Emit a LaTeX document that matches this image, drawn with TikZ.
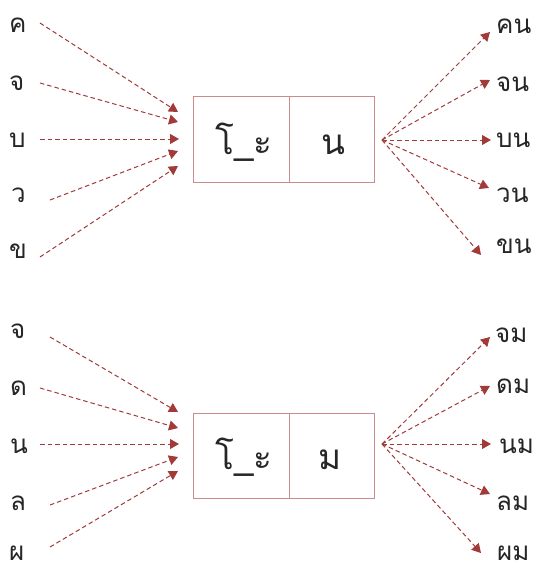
\documentclass[tikz,border=0pt]{standalone}
\usepackage{fontspec}
\newfontfamily\thaifont[Script=Thai]{Loma}
\usetikzlibrary{arrows.meta}
\definecolor{arrowred}{HTML}{A23A3A}
\definecolor{boxpink}{HTML}{C98C8C}
\definecolor{ink}{HTML}{262626}
\tikzset{
  lbl/.style={font=\thaifont\fontsize{26}{28}\selectfont, text=ink, inner sep=0pt},
  celltext/.style={font=\thaifont\fontsize{35}{38}\selectfont, text=ink, inner sep=0pt},
  cell/.style={draw=boxpink, line width=0.9pt, inner sep=0pt},
  link/.style={draw=arrowred, line width=1pt, dash pattern=on 4.5pt off 3pt,
    -{Triangle[length=9pt,width=10pt]}, arrowred},
}
\begin{document}
\begin{tikzpicture}[x=1pt,y=-1pt]
\useasboundingbox (0,0) rectangle (537,566);
\fill[white] (0,0) rectangle (537,566);

% ---------- upper word family: -on ----------
\node[cell, minimum width=96pt, minimum height=86pt] (ua) at (241,139) {};
\node[cell, minimum width=85pt, minimum height=86pt] (ub) at (331.5,139) {};
\node[celltext, anchor=base] (uat) at (244,154) {โ\_ะ};
\node[celltext, anchor=base] (ubt) at (333,154) {น};

\node[lbl, anchor=base west] (l1) at (9,32) {ค};
\node[lbl, anchor=base west] (l2) at (9,90) {จ};
\node[lbl, anchor=base west] (l3) at (9,147) {บ};
\node[lbl, anchor=base west] (l4) at (11,202) {ว};
\node[lbl, anchor=base west] (l5) at (9,258) {ข};

\coordinate (s1) at (40,23);   \coordinate (t1) at (178,112);
\coordinate (s2) at (40,83);   \coordinate (t2) at (178,122);
\coordinate (s3) at (40,139);  \coordinate (t3) at (179,139);
\coordinate (s4) at (50,200);  \coordinate (t4) at (178,151);
\coordinate (s5) at (40,257);  \coordinate (t5) at (178,166);
\foreach \i in {1,...,5} {\draw[link] (s\i) -- (t\i);}

\coordinate (usrc) at (382,140);
\node[lbl, anchor=base west] (r1) at (496,33) {คน};
\node[lbl, anchor=base west] (r2) at (496,91) {จน};
\node[lbl, anchor=base west] (r3) at (496,147) {บน};
\node[lbl, anchor=base west] (r4) at (496,202) {วน};
\node[lbl, anchor=base west] (r5) at (496,253) {ขน};
\coordinate (e1) at (490,32);
\coordinate (e2) at (490,80);
\coordinate (e3) at (491,140);
\coordinate (e4) at (489,188);
\coordinate (e5) at (481,255);
\foreach \i in {1,...,5} {\draw[link] (usrc) -- (e\i);}

% ---------- lower word family: -om ----------
\node[cell, minimum width=96pt, minimum height=85pt] (la) at (241,455.5) {};
\node[cell, minimum width=85pt, minimum height=85pt] (lb) at (331.5,455.5) {};
\node[celltext, anchor=base] (lat) at (244,469) {โ\_ะ};
\node[celltext, anchor=base] (lbt) at (330,469) {ม};

\node[lbl, anchor=base west] (m1) at (10,338) {จ};
\node[lbl, anchor=base west] (m2) at (10,395) {ด};
\node[lbl, anchor=base west] (m3) at (10,453) {น};
\node[lbl, anchor=base west] (m4) at (10,510) {ล};
\node[lbl, anchor=base west] (m5) at (9,560) {ผ};

\coordinate (p1) at (50,337);  \coordinate (q1) at (178,412);
\coordinate (p2) at (40,388);  \coordinate (q2) at (178,428);
\coordinate (p3) at (40,444);  \coordinate (q3) at (179,444);
\coordinate (p4) at (50,505);  \coordinate (q4) at (178,457);
\coordinate (p5) at (50,547);  \coordinate (q5) at (178,471);
\foreach \i in {1,...,5} {\draw[link] (p\i) -- (q\i);}

\coordinate (lsrc) at (382,444);
\node[lbl, anchor=base west] (n1) at (495,342) {จม};
\node[lbl, anchor=base west] (n2) at (496,393) {ดม};
\node[lbl, anchor=base west] (n3) at (499,453) {นม};
\node[lbl, anchor=base west] (n4) at (496,510) {ลม};
\node[lbl, anchor=base west] (n5) at (497,560) {ผม};
\coordinate (f1) at (490,337);
\coordinate (f2) at (490,386);
\coordinate (f3) at (491,444);
\coordinate (f4) at (490,494);
\coordinate (f5) at (481,553);
\foreach \i in {1,...,5} {\draw[link] (lsrc) -- (f\i);}
\end{tikzpicture}
\end{document}
